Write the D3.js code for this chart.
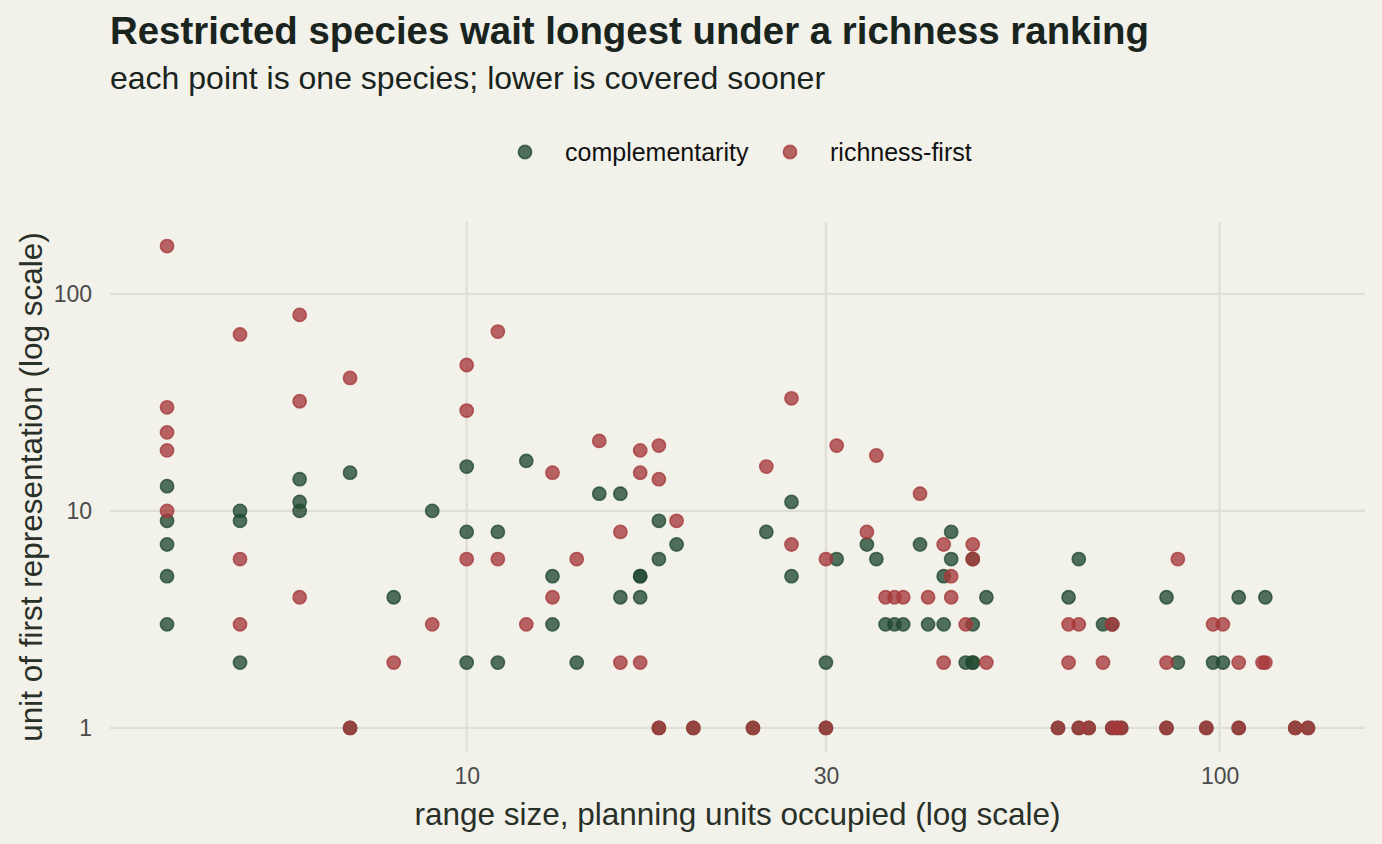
<!DOCTYPE html>
<html>
<head>
<meta charset="utf-8">
<script src="https://cdn.jsdelivr.net/npm/d3@7"></script>
<style>
  body { margin: 0; background: #f2f1ea; }
  svg { display: block; font-family: "Liberation Sans", Arial, sans-serif; }
</style>
</head>
<body>
<div id="chart"></div>
<script>
// range size (planning units) and unit of first representation, one pair per species
var complementarity = [
  [4,13],[4,9],[4,7],[4,5],[4,3],
  [5,10],[5,9],[5,2],
  [6,14],[6,11],[6,10],
  [7,15],[7,1],[8,4],[9,10],
  [10,16],[10,8],[10,2],[11,8],[11,2],[12,17],
  [13,5],[13,3],[14,2],[15,12],[16,12],[16,4],
  [17,5],[17,5],[17,4],[18,9],[18,6],[18,1],[19,7],[20,1],[24,1],
  [25,8],[27,11],[27,5],[30,2],[30,1],[31,6],[34,7],[35,6],
  [36,3],[37,3],[38,3],[40,7],[41,3],[43,5],[43,3],[44,8],[44,6],
  [46,2],[47,6],[47,3],[47,2],[47,2],[49,4],
  [61,1],[63,4],[65,6],[65,1],[67,1],[70,3],[72,3],[72,1],[73,1],[74,1],
  [85,4],[85,1],[88,2],[96,1],[98,2],[101,2],[106,4],[106,1],[115,4],[126,1],[131,1]
];
var richnessFirst = [
  [4,166],[4,30],[4,23],[4,19],[4,10],
  [5,65],[5,6],[5,3],
  [6,80],[6,32],[6,4],
  [7,41],[7,1],[8,2],[9,3],
  [10,47],[10,29],[10,6],[11,67],[11,6],[12,3],
  [13,15],[13,4],[14,6],[15,21],[16,8],[16,2],
  [17,19],[17,15],[17,2],[18,20],[18,14],[18,1],[19,9],[20,1],[24,1],
  [25,16],[27,33],[27,7],[30,6],[30,1],[31,20],[34,8],[35,18],
  [36,4],[37,4],[38,4],[40,12],[41,4],[43,7],[43,2],[44,5],[44,4],
  [46,3],[47,7],[47,6],[49,2],
  [61,1],[63,3],[63,2],[65,3],[65,1],[67,1],[70,2],[72,3],[72,1],[73,1],[74,1],
  [85,2],[85,1],[88,6],[96,1],[98,3],[101,3],[106,2],[106,1],[114,2],[115,2],[126,1],[131,1]
];
var xTicks = [10, 30, 100];
var yTicks = [1, 10, 100];
var seriesNames = ['complementarity', 'richness-first'];

var width = 1382, height = 844;
var plotLeft = 110, plotRight = 1365, plotTop = 222, plotBottom = 752;
var green = '#234a31', red = '#a63a3b';

var svg = d3.select('#chart').append('svg')
  .attr('width', width)
  .attr('height', height);

svg.append('rect').attr('width', width).attr('height', height).attr('fill', '#f2f1ea');

// log scales with ggplot-like 5% expansion
var xExt = d3.extent(complementarity.concat(richnessFirst), function(d){ return Math.log10(d[0]); });
var yExt = [0, Math.log10(d3.max(richnessFirst, function(d){ return d[1]; }))];
var xPad = (xExt[1] - xExt[0]) * 0.05, yPad = (yExt[1] - yExt[0]) * 0.05;

var x_scale = d3.scaleLog()
  .domain([Math.pow(10, xExt[0] - xPad), Math.pow(10, xExt[1] + xPad)])
  .range([plotLeft, plotRight]);
var y_scale = d3.scaleLog()
  .domain([Math.pow(10, yExt[0] - yPad), Math.pow(10, yExt[1] + yPad)])
  .range([plotBottom, plotTop]);

//grid
var grid = svg.append('g').attr('stroke', '#e0dfd5').attr('stroke-width', 2.2);
grid.selectAll('.vx').data(xTicks).enter().append('line')
  .attr('x1', function(d){ return x_scale(d); }).attr('x2', function(d){ return x_scale(d); })
  .attr('y1', plotTop).attr('y2', plotBottom);
grid.selectAll('.hy').data(yTicks).enter().append('line')
  .attr('y1', function(d){ return y_scale(d); }).attr('y2', function(d){ return y_scale(d); })
  .attr('x1', plotLeft).attr('x2', plotRight);

//axes (labels only)
var x_axis = d3.axisBottom(x_scale).tickValues(xTicks).tickFormat(d3.format('d')).tickSize(0).tickPadding(12);
var xg = svg.append('g').attr('transform', 'translate(0,' + (plotBottom + 4) + ')').call(x_axis);
var y_axis = d3.axisLeft(y_scale).tickValues(yTicks).tickFormat(d3.format('d')).tickSize(0).tickPadding(18);
var yg = svg.append('g').attr('transform', 'translate(' + plotLeft + ',0)').call(y_axis);
[xg, yg].forEach(function(g){
  g.select('.domain').remove();
  g.selectAll('text').attr('fill', '#4b4b4b').style('font-size', '23px').style('font-family', '"Liberation Sans", Arial, sans-serif');
});

//points
function drawPoints(data, colour) {
  svg.append('g').selectAll('circle')
    .data(data)
    .enter()
    .append('circle')
    .attr('cx', function(d){ return x_scale(d[0]); })
    .attr('cy', function(d){ return y_scale(d[1]); })
    .attr('r', 6.6)
    .attr('fill', colour)
    .attr('fill-opacity', 0.78)
    .attr('stroke', colour)
    .attr('stroke-opacity', 0.78)
    .attr('stroke-width', 1.6);
}
drawPoints(complementarity, green);
drawPoints(richnessFirst, red);

//titles
svg.append('text').attr('x', 110).attr('y', 44)
  .attr('fill', '#18241d').style('font-size', '38.4px').style('font-weight', 'bold')
  .text('Restricted species wait longest under a richness ranking');
svg.append('text').attr('x', 110).attr('y', 89)
  .attr('fill', '#18241d').style('font-size', '32px')
  .text('each point is one species; lower is covered sooner');

svg.append('text').attr('x', (plotLeft + plotRight) / 2).attr('y', 825)
  .attr('text-anchor', 'middle').attr('fill', '#283028').style('font-size', '31.5px')
  .text('range size, planning units occupied (log scale)');
svg.append('text').attr('transform', 'translate(42,' + ((plotTop + plotBottom) / 2) + ') rotate(-90)')
  .attr('text-anchor', 'middle').attr('fill', '#283028').style('font-size', '31.5px')
  .text('unit of first representation (log scale)');

//legend
var legendX = [525, 790];
var legend = svg.append('g').selectAll('g').data(seriesNames).enter().append('g')
  .attr('transform', function(d, i){ return 'translate(' + legendX[i] + ',152)'; });
legend.append('circle').attr('r', 6.6)
  .attr('fill', function(d, i){ return i === 0 ? green : red; }).attr('fill-opacity', 0.78)
  .attr('stroke', function(d, i){ return i === 0 ? green : red; }).attr('stroke-opacity', 0.78)
  .attr('stroke-width', 1.6);
legend.append('text').attr('x', 40).attr('y', 9)
  .attr('fill', '#111').style('font-size', '25px')
  .text(function(d){ return d; });
</script>
</body>
</html>
